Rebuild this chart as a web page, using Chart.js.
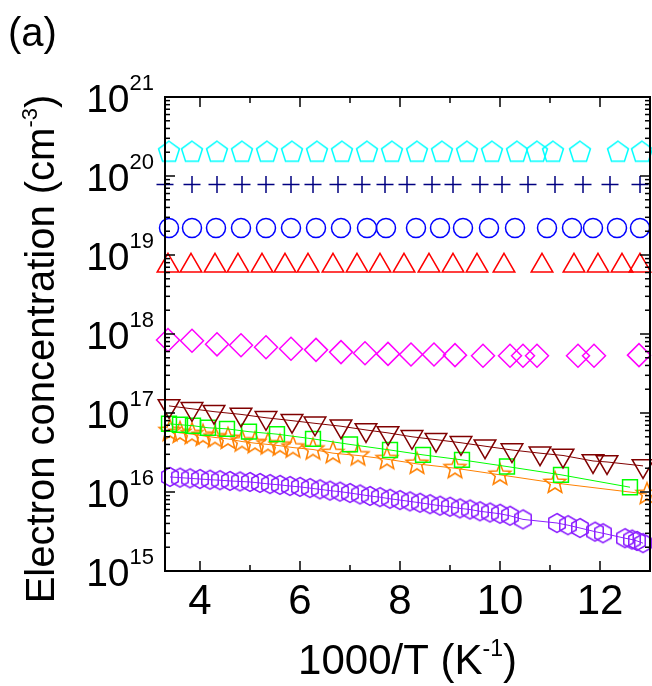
<!DOCTYPE html>
<html>
<head>
<meta charset="utf-8">
<script src="https://cdn.jsdelivr.net/npm/chart.js@4.4.0/dist/chart.umd.min.js"></script>
<style>
    html, body { margin: 0; padding: 0; background: #fff; }
</style>
</head>
<body>
<canvas id="chart" width="652" height="686"></canvas>
<script>
// Axis ticks
const xMajorTicks = [4, 6, 8, 10, 12];
const xMinorTicks = [5, 7, 9, 11];
const yDecades = [15, 16, 17, 18, 19, 20, 21];
const yMinorSteps = [2, 3, 4, 5, 6, 7, 8, 9];

// Cyan pentagons
const pentX = [3.38, 3.84, 4.34, 4.84, 5.34, 5.84, 6.34, 6.84, 7.34, 7.84, 8.34, 8.84, 9.34, 9.84, 10.34, 10.74, 11.06, 11.6, 12.36, 12.84];
const pentY = [2.0e20, 2.0e20, 2.0e20, 2.0e20, 2.0e20, 2.0e20, 2.0e20, 2.0e20, 2.0e20, 2.0e20, 2.0e20, 2.0e20, 2.0e20, 2.0e20, 2.0e20, 2.0e20, 2.0e20, 2.0e20, 2.0e20, 2.0e20];

// Navy crosses
const plusX = [3.3, 3.84, 4.34, 4.84, 5.32, 5.82, 6.26, 6.76, 7.24, 7.7, 8.14, 8.64, 9.06, 9.6, 10.04, 10.56, 11.1, 11.66, 12.2, 12.8];
const plusY = [7.8e19, 7.8e19, 7.8e19, 7.8e19, 7.8e19, 7.8e19, 7.8e19, 7.8e19, 7.8e19, 7.8e19, 7.8e19, 7.8e19, 7.8e19, 7.8e19, 7.8e19, 7.8e19, 7.8e19, 7.8e19, 7.8e19, 7.8e19];

// Blue circles
const circX = [3.38, 3.84, 4.32, 4.82, 5.32, 5.82, 6.32, 6.82, 7.34, 7.72, 8.32, 8.8, 9.26, 9.78, 10.3, 10.94, 11.44, 11.86, 12.34, 12.8];
const circY = [2.2e19, 2.2e19, 2.2e19, 2.2e19, 2.2e19, 2.2e19, 2.2e19, 2.2e19, 2.2e19, 2.2e19, 2.2e19, 2.2e19, 2.2e19, 2.2e19, 2.2e19, 2.2e19, 2.2e19, 2.2e19, 2.2e19, 2.2e19];

// Red triangles
const triX = [3.36, 3.82, 4.3, 4.76, 5.24, 5.7, 6.16, 6.66, 7.14, 7.6, 8.08, 8.58, 9.06, 9.54, 10.08, 10.84, 11.48, 11.96, 12.44, 12.8];
const triY = [7.3e18, 7.3e18, 7.3e18, 7.3e18, 7.3e18, 7.3e18, 7.3e18, 7.3e18, 7.3e18, 7.3e18, 7.3e18, 7.3e18, 7.3e18, 7.3e18, 7.3e18, 7.3e18, 7.3e18, 7.3e18, 7.3e18, 7.3e18];

// Magenta diamonds
const diaX = [3.36, 3.84, 4.34, 4.82, 5.32, 5.82, 6.32, 6.82, 7.3, 7.76, 8.22, 8.68, 9.1, 9.66, 10.2, 10.46, 10.74, 11.56, 11.88, 12.78];
const diaY = [8.4e17, 8.2e17, 7.4e17, 7.2e17, 6.8e17, 6.5e17, 6.3e17, 5.9e17, 5.7e17, 5.6e17, 5.5e17, 5.5e17, 5.4e17, 5.3e17, 5.3e17, 5.3e17, 5.3e17, 5.3e17, 5.3e17, 5.4e17];

// Dark red down triangles
const downX = [3.38, 3.84, 4.28, 4.82, 5.32, 5.84, 6.3, 6.82, 7.32, 7.76, 8.24, 8.72, 9.22, 9.7, 10.24, 10.8, 11.26, 11.86, 12.14, 12.86];
const downY = [1.23e17, 1.13e17, 1.04e17, 9.6e16, 8.7e16, 8.0e16, 7.4e16, 6.8e16, 6.1e16, 5.6e16, 5.0e16, 4.6e16, 4.2e16, 3.8e16, 3.4e16, 3.1e16, 2.9e16, 2.47e16, 2.4e16, 2.14e16];

// Green squares
const sqX = [3.38, 3.6, 3.86, 4.16, 4.54, 4.98, 5.54, 6.26, 7.0, 7.8, 8.46, 9.24, 10.14, 11.22, 12.6];
const sqY = [7.3e16, 7.1e16, 6.9e16, 6.5e16, 6.3e16, 5.8e16, 5.4e16, 4.7e16, 4.0e16, 3.4e16, 2.95e16, 2.55e16, 2.1e16, 1.65e16, 1.15e16];

// Orange stars
const starX = [3.4, 3.6, 3.84, 4.06, 4.3, 4.56, 4.84, 5.1, 5.36, 5.6, 5.86, 6.26, 6.66, 7.16, 7.74, 8.34, 9.1, 10.0, 11.1, 12.94];
const starY = [5.9e16, 5.6e16, 5.4e16, 5.15e16, 4.9e16, 4.7e16, 4.35e16, 4.15e16, 4.0e16, 3.85e16, 3.65e16, 3.45e16, 3.1e16, 2.9e16, 2.6e16, 2.27e16, 2.0e16, 1.65e16, 1.3e16, 9.4e15];

// Purple hexagons
const hexX = [3.4, 3.6, 3.8, 4.0, 4.2, 4.4, 4.6, 4.8, 5.0, 5.2, 5.4, 5.6, 5.8, 6.0, 6.2, 6.4, 6.6, 6.8, 7.0, 7.2, 7.4, 7.6, 7.8, 8.0, 8.2, 8.4, 8.6, 8.8, 9.0, 9.2, 9.4, 9.6, 9.8, 10.0, 10.2, 10.46, 11.14, 11.36, 11.6, 11.9, 12.06, 12.5, 12.64, 12.74, 12.86];
const hexY = [1.55e16, 1.52e16, 1.49e16, 1.46e16, 1.43e16, 1.41e16, 1.38e16, 1.36e16, 1.34e16, 1.30e16, 1.26e16, 1.23e16, 1.19e16, 1.16e16, 1.12e16, 1.08e16, 1.04e16, 1.01e16, 9.7e15, 9.3e15, 8.9e15, 8.6e15, 8.2e15, 7.9e15, 7.6e15, 7.3e15, 7.0e15, 6.7e15, 6.5e15, 6.2e15, 6.0e15, 5.7e15, 5.5e15, 5.3e15, 5.0e15, 4.5e15, 4.05e15, 3.8e15, 3.5e15, 3.15e15, 3.0e15, 2.6e15, 2.5e15, 2.4e15, 2.25e15];

const FONT = "'Liberation Sans', Arial, sans-serif";

function toPoints(xs, ys) {
    return xs.map((x, i) => ({ x: x, y: ys[i] }));
}

// Open marker glyphs that Chart.js does not have built in
function markerCanvas(size, color, path) {
    const c = document.createElement('canvas');
    c.width = size;
    c.height = size;
    const g = c.getContext('2d');
    g.strokeStyle = color;
    g.lineWidth = 1.5;
    g.translate(size / 2, size / 2);
    g.beginPath();
    path(g);
    g.closePath();
    g.stroke();
    return c;
}

function polygon(n, R, start) {
    return g => {
        for (let i = 0; i < n; i++) {
            const a = start + i * 2 * Math.PI / n;
            g.lineTo(R * Math.cos(a), R * Math.sin(a));
        }
    };
}

function starPath(R, r) {
    return g => {
        for (let i = 0; i < 10; i++) {
            const a = -Math.PI / 2 + i * Math.PI / 5;
            const rad = i % 2 === 0 ? R : r;
            g.lineTo(rad * Math.cos(a), rad * Math.sin(a));
        }
    };
}

const pentagonImg = markerCanvas(26, '#00ffff', polygon(5, 11, -Math.PI / 2));
const hexagonImg = markerCanvas(24, '#8b1eff', polygon(6, 9.5, -Math.PI / 2));
const starImg = markerCanvas(28, '#ff8000', starPath(11.5, 5));

function markerSet(xs, ys, style, color, radius, extra) {
    return Object.assign({
        data: toPoints(xs, ys),
        showLine: false,
        pointStyle: style,
        pointRadius: radius,
        pointHoverRadius: radius,
        pointBorderColor: color,
        pointBackgroundColor: 'rgba(0,0,0,0)',
        pointBorderWidth: 1.5,
        borderColor: color,
        borderWidth: 1,
        clip: false
    }, extra || {});
}

function drawTick(ctx, x1, y1, x2, y2) {
    ctx.beginPath();
    ctx.moveTo(x1, y1);
    ctx.lineTo(x2, y2);
    ctx.stroke();
}

const framePlugin = {
    id: 'frame',
    afterDraw(chart) {
        const { ctx, chartArea: a } = chart;
        const xs = chart.scales.x;
        const ys = chart.scales.y;
        ctx.save();
        ctx.strokeStyle = '#000';
        ctx.lineWidth = 1.5;

        // inward ticks on all four sides
        xMajorTicks.forEach(v => {
            const px = xs.getPixelForValue(v);
            drawTick(ctx, px, a.bottom, px, a.bottom - 10);
            drawTick(ctx, px, a.top, px, a.top + 10);
        });
        xMinorTicks.forEach(v => {
            const px = xs.getPixelForValue(v);
            drawTick(ctx, px, a.bottom, px, a.bottom - 6);
            drawTick(ctx, px, a.top, px, a.top + 6);
        });
        yDecades.forEach(e => {
            const py = ys.getPixelForValue(Math.pow(10, e));
            drawTick(ctx, a.left, py, a.left + 10, py);
            drawTick(ctx, a.right, py, a.right - 10, py);
            if (e < 21) {
                yMinorSteps.forEach(m => {
                    const pm = ys.getPixelForValue(m * Math.pow(10, e));
                    drawTick(ctx, a.left, pm, a.left + 5, pm);
                    drawTick(ctx, a.right, pm, a.right - 5, pm);
                });
            }
        });

        ctx.lineWidth = 2;
        ctx.strokeRect(a.left, a.top, a.right - a.left, a.bottom - a.top);

        // y tick labels as 10^n
        ctx.fillStyle = '#000';
        ctx.textBaseline = 'alphabetic';
        ctx.textAlign = 'left';
        yDecades.forEach(e => {
            const py = ys.getPixelForValue(Math.pow(10, e));
            ctx.font = '22px ' + FONT;
            const sup = String(e);
            const supW = ctx.measureText(sup).width;
            const right = a.left - 11;
            ctx.fillText(sup, right - supW, py - 7);
            ctx.font = '39px ' + FONT;
            const baseW = ctx.measureText('10').width;
            ctx.fillText('10', right - supW - baseW, py + 15);
        });

        // y axis title
        ctx.save();
        ctx.translate(54, 349);
        ctx.rotate(-Math.PI / 2);
        ctx.font = '40px ' + FONT;
        const main = 'Electron concentration (cm';
        const mainW = ctx.measureText(main).width;
        ctx.font = '22px ' + FONT;
        const supY = '-3';
        const supYW = ctx.measureText(supY).width;
        ctx.font = '40px ' + FONT;
        const closeW = ctx.measureText(')').width;
        let sx = -(mainW + supYW + closeW) / 2;
        ctx.fillText(main, sx, 0);
        sx += mainW;
        ctx.font = '22px ' + FONT;
        ctx.fillText(supY, sx, -17);
        sx += supYW;
        ctx.font = '40px ' + FONT;
        ctx.fillText(')', sx, 0);
        ctx.restore();

        // x axis title
        ctx.font = '42px ' + FONT;
        const xMain = '1000/T (K';
        const xMainW = ctx.measureText(xMain).width;
        ctx.font = '23px ' + FONT;
        const xSup = '-1';
        const xSupW = ctx.measureText(xSup).width;
        ctx.font = '42px ' + FONT;
        const xCloseW = ctx.measureText(')').width;
        let tx = (a.left + a.right) / 2 - (xMainW + xSupW + xCloseW) / 2;
        const ty = 674;
        ctx.fillText(xMain, tx, ty);
        tx += xMainW;
        ctx.font = '23px ' + FONT;
        ctx.fillText(xSup, tx, ty - 18);
        tx += xSupW;
        ctx.font = '42px ' + FONT;
        ctx.fillText(')', tx, ty);

        // panel letter
        ctx.font = '40px ' + FONT;
        ctx.fillText('(a)', 8, 46);
        ctx.restore();
    }
};

new Chart(document.getElementById('chart'), {
    type: 'scatter',
    data: {
        datasets: [
            markerSet(pentX, pentY, pentagonImg, '#00ffff', 11),
            markerSet(plusX, plusY, 'cross', '#000080', 8.5),
            markerSet(circX, circY, 'circle', '#0000ff', 9.5),
            markerSet(triX, triY, 'triangle', '#ff0000', 12.5),
            markerSet(diaX, diaY, 'rectRot', '#ff00ff', 11.5),
            markerSet(downX, downY, 'triangle', '#800000', 12.5, { showLine: true, pointRotation: 180 }),
            markerSet(sqX, sqY, 'rect', '#00ff00', 10.5, { showLine: true }),
            markerSet(starX, starY, starImg, '#ff8000', 11, { showLine: true }),
            markerSet(hexX, hexY, hexagonImg, '#8b1eff', 9.5, { showLine: true })
        ]
    },
    options: {
        responsive: false,
        animation: false,
        events: [],
        layout: {
            autoPadding: false,
            padding: { top: 97, right: 2, left: 0, bottom: 0 }
        },
        plugins: {
            legend: { display: false },
            tooltip: { enabled: false }
        },
        scales: {
            x: {
                type: 'linear',
                min: 3.3,
                max: 13,
                grid: { display: false, drawTicks: false },
                border: { display: false },
                ticks: {
                    color: '#000',
                    font: { size: 42, family: FONT },
                    padding: 6,
                    maxRotation: 0
                },
                afterBuildTicks: scale => {
                    scale.ticks = xMajorTicks.map(v => ({ value: v }));
                },
                afterFit: scale => {
                    scale.height = 115;
                    scale.paddingLeft = 0;
                    scale.paddingRight = 0;
                }
            },
            y: {
                type: 'logarithmic',
                min: 1e15,
                max: 1e21,
                grid: { display: false, drawTicks: false },
                border: { display: false },
                ticks: { display: false },
                afterFit: scale => {
                    scale.width = 165;
                    scale.paddingTop = 0;
                    scale.paddingBottom = 0;
                }
            }
        }
    },
    plugins: [framePlugin]
});
</script>
</body>
</html>
